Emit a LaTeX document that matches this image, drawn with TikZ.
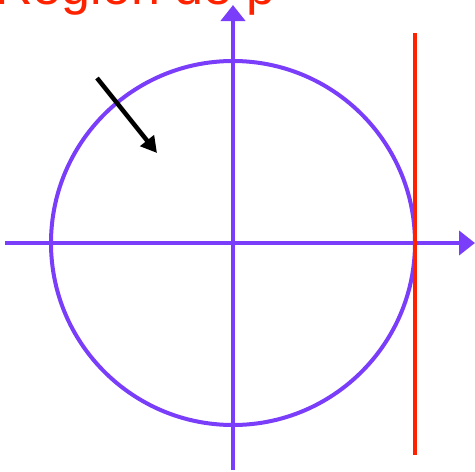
\documentclass[tikz,border=0pt]{standalone}
\usepackage{fontspec}
\setmainfont{Liberation Sans}
\usetikzlibrary{arrows.meta}

\definecolor{axisviolet}{RGB}{122,62,250}
\definecolor{linered}{RGB}{255,34,0}

\begin{document}
\begin{tikzpicture}[x=1pt, y=-1pt, >={Triangle[length=16pt,width=24pt]}]

\useasboundingbox (0,0) rectangle (475,472);

% Coordinates
\coordinate (O) at (233,243);     % origin, centre of the circle
\coordinate (xL) at (5,243);
\coordinate (xR) at (475,243);
\coordinate (yB) at (233,470);
\coordinate (yT) at (233,5);
\coordinate (rT) at (415,33);     % red line, top end
\coordinate (rB) at (415,455);    % red line, bottom end
\coordinate (aS) at (97,78);      % black arrow start
\coordinate (aE) at (157,153);    % black arrow tip

% Title (cut off at the top)
\node[linered, anchor=base west, inner sep=0pt, font=\fontsize{52}{60}\selectfont]
  (title) at (-5,4) {Region de p};

% Unit circle
\draw[axisviolet, line width=4pt] (O) circle (182);

% Axes
\draw[->, axisviolet, line width=4pt] (xL) -- (xR);
\draw[->, axisviolet, line width=4pt] (yB) -- (yT);

% Vertical red line
\draw[linered, line width=4.5pt] (rT) -- (rB);

% Black arrow
\draw[-{Triangle[length=16pt,width=17pt]}, line width=4.5pt] (aS) -- (aE);

\end{tikzpicture}
\end{document}
